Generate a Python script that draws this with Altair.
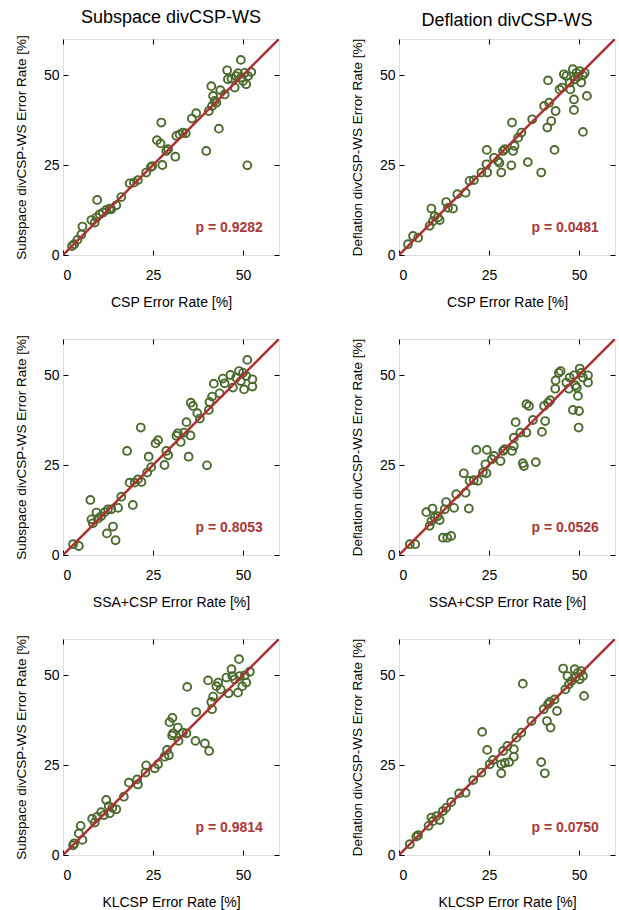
import altair as alt
import pandas as pd

GREEN = "#4b6a2e"
RED = "#aa3333"
TXTRED = "#a93838"
FONT = "Liberation Sans"
W = 216

col_titles = ["Subspace divCSP-WS", "Deflation divCSP-WS"]
y_titles = ["Subspace divCSP-WS Error Rate [%]", "Deflation divCSP-WS Error Rate [%]"]
x_titles = ["CSP Error Rate [%]", "SSA+CSP Error Rate [%]", "KLCSP Error Rate [%]"]
p_values = [["0.9282", "0.0481"], ["0.8053", "0.0526"], ["0.9814", "0.0750"]]
tick_values = [0, 25, 50]
axis_range = [0, 60]

# Row 1, Subspace vs CSP
sub_csp_x = [2.5, 3.1, 4.0, 5.1, 5.4, 7.9, 8.8, 9.3, 9.5, 10.2, 11.1, 12.0, 13.0, 13.4, 14.8, 16.2,
             18.5, 19.7, 20.8, 23.1, 24.4, 24.8, 26.1, 27.1, 27.3, 27.6, 28.7, 29.2, 31.2, 31.5, 32.4,
             33.3, 34.1, 35.8, 37.0, 39.8, 40.5, 41.2, 41.4, 41.7, 42.1, 42.6, 43.3, 43.7, 44.9, 45.6,
             45.8, 46.8, 47.7, 48.1, 48.6, 49.4, 49.5, 50.0, 50.5, 50.9, 51.2, 52.3, 51.4]
sub_csp_y = [2.5, 3.0, 4.2, 5.7, 7.9, 9.7, 9.0, 10.4, 15.3, 11.3, 11.8, 12.5, 12.9, 12.7, 13.8, 16.1,
             19.9, 20.1, 20.8, 22.9, 24.4, 24.7, 31.9, 31.0, 36.8, 25.0, 28.9, 29.4, 27.3, 33.1, 33.5,
             34.0, 33.8, 37.9, 39.4, 28.9, 40.0, 46.9, 41.4, 44.2, 42.8, 42.3, 35.1, 45.8, 44.6, 51.3,
             48.8, 49.0, 46.5, 49.7, 50.5, 54.2, 49.3, 48.3, 50.6, 47.4, 24.9, 50.8, 49.7]

# Row 1, Deflation vs CSP
def_csp_x = [2.5, 3.9, 5.3, 9.0, 8.5, 9.4, 9.9, 10.8, 11.3, 13.1, 13.6, 15.0, 16.2, 18.5, 19.6, 20.8,
             22.9, 24.3, 24.5, 24.4, 26.4, 27.5, 27.9, 28.4, 28.9, 29.4, 31.4, 31.2, 31.7, 32.1, 33.1,
             34.0, 35.8, 37.0, 39.5, 40.3, 41.2, 41.4, 41.7, 42.3, 43.2, 43.5, 44.6, 45.3, 45.8, 46.5,
             47.4, 47.6, 48.3, 48.6, 48.6, 48.8, 49.3, 49.7, 50.2, 50.6, 51.1, 51.1, 51.6, 52.2]
def_csp_y = [3.0, 5.3, 4.8, 12.9, 8.1, 9.4, 10.8, 10.4, 9.7, 14.7, 13.1, 12.9, 16.9, 17.3, 20.6, 20.8,
             22.9, 25.2, 22.9, 29.2, 27.0, 26.1, 25.6, 22.9, 28.9, 29.4, 36.8, 24.9, 28.9, 30.3, 32.6,
             34.0, 25.8, 37.7, 22.9, 41.4, 35.4, 48.5, 42.3, 37.2, 29.2, 40.0, 46.0, 46.5, 50.2, 49.7,
             47.9, 46.0, 51.6, 43.2, 40.3, 48.8, 50.6, 49.5, 51.1, 47.9, 49.9, 34.2, 50.6, 44.2]

# Row 2, Subspace vs SSA+CSP
sub_ssa_x = [2.8, 4.4, 7.6, 7.9, 8.3, 9.3, 9.7, 10.6, 11.6, 12.2, 12.5, 13.4, 13.9, 14.6, 15.3, 16.2,
             17.8, 19.4, 18.5, 19.9, 20.8, 21.6, 21.8, 23.4, 23.8, 24.5, 25.7, 26.4, 28.2, 28.7, 29.2,
             31.5, 31.9, 32.7, 33.6, 34.3, 34.9, 35.4, 35.5, 36.1, 37.3, 38.0, 40.0, 40.5, 40.7, 41.4,
             41.9, 43.5, 44.4, 44.9, 46.5, 47.2, 48.1, 48.9, 49.4, 50.0, 50.3, 50.9, 51.2, 52.6, 52.6]
sub_ssa_y = [3.0, 2.5, 15.3, 9.9, 8.8, 11.8, 10.1, 10.8, 11.9, 6.0, 12.7, 12.7, 7.9, 4.1, 13.1, 16.2,
             28.9, 13.9, 20.1, 20.1, 21.0, 35.4, 20.3, 22.9, 27.3, 24.4, 31.0, 31.9, 25.0, 28.9, 27.7,
             33.1, 33.8, 31.4, 34.0, 36.9, 27.3, 33.2, 42.3, 41.4, 39.4, 37.9, 24.9, 40.3, 42.5, 44.0,
             47.6, 44.9, 49.0, 47.7, 50.0, 46.5, 49.3, 51.1, 48.3, 50.6, 46.0, 49.7, 54.2, 48.8, 46.8]

# Row 2, Deflation vs SSA+CSP
def_ssa_x = [3.0, 4.5, 7.6, 8.5, 9.0, 9.3, 9.9, 10.8, 11.3, 12.2, 13.4, 14.5, 13.1, 12.7, 15.3, 15.9,
             18.5, 19.4, 18.0, 19.6, 20.8, 21.5, 21.9, 23.3, 24.3, 24.0, 24.4, 25.8, 26.4, 28.2, 28.9,
             29.4, 31.4, 31.9, 31.9, 32.4, 33.7, 34.4, 34.7, 35.4, 35.4, 36.1, 37.2, 38.0, 39.7, 40.3,
             40.6, 41.4, 42.0, 43.4, 43.5, 44.4, 44.9, 46.5, 47.2, 47.4, 48.3, 48.6, 49.0, 49.4, 49.7,
             50.0, 49.9, 50.2, 50.6, 51.1, 52.5, 52.5]
def_ssa_y = [3.0, 3.0, 11.9, 8.1, 9.4, 12.9, 10.4, 10.8, 9.7, 4.8, 4.8, 5.3, 14.7, 12.7, 13.1, 16.9,
             17.3, 12.9, 22.7, 20.6, 20.8, 29.2, 20.6, 22.9, 22.7, 25.2, 29.2, 26.6, 27.5, 26.1, 28.9,
             29.4, 28.9, 30.3, 32.6, 36.9, 34.0, 25.5, 24.7, 34.0, 41.9, 41.4, 37.5, 25.8, 34.2, 41.4,
             37.2, 42.3, 43.0, 46.2, 48.5, 50.6, 51.1, 47.9, 46.2, 49.3, 40.3, 49.9, 47.1, 46.5, 44.2,
             40.0, 35.4, 51.8, 50.6, 49.3, 49.9, 47.9]

# Row 3, Subspace vs KLCSP
sub_kl_x = [2.8, 3.1, 4.4, 4.9, 5.4, 8.1, 8.8, 9.5, 10.6, 11.4, 12.0, 12.7, 13.0, 13.7, 14.8, 16.9,
            18.3, 20.6, 20.8, 22.9, 23.1, 25.5, 26.4, 28.2, 28.9, 29.4, 29.6, 30.4, 30.3, 30.6, 31.9,
            32.1, 33.3, 34.3, 34.5, 36.8, 37.0, 39.4, 40.3, 40.6, 41.2, 41.4, 41.7, 42.6, 43.1, 43.8,
            45.4, 46.0, 46.8, 47.0, 47.7, 48.6, 48.9, 49.1, 49.8, 50.5, 50.9, 51.9]
sub_kl_y = [2.7, 3.2, 6.0, 8.1, 4.2, 10.1, 9.0, 10.6, 11.9, 11.1, 15.3, 13.6, 11.6, 13.1, 12.7, 16.2,
            20.1, 21.0, 19.6, 22.9, 24.9, 24.1, 25.2, 27.3, 29.2, 27.7, 36.9, 38.1, 33.2, 33.8, 35.4,
            31.7, 34.0, 33.8, 46.7, 31.7, 39.7, 31.0, 48.5, 28.9, 42.5, 40.5, 44.0, 46.9, 47.9, 46.0,
            49.3, 44.9, 51.6, 49.7, 48.8, 45.1, 54.4, 49.7, 46.9, 49.9, 47.9, 50.9]

# Row 3, Deflation vs KLCSP
def_kl_x = [3.0, 4.8, 5.3, 8.2, 9.0, 9.4, 10.4, 11.3, 12.2, 13.1, 14.5, 16.7, 18.5, 20.6, 22.9, 23.1,
            24.5, 25.2, 26.1, 28.4, 28.4, 28.9, 29.4, 30.1, 30.6, 31.9, 31.9, 32.6, 34.0, 34.4, 36.8,
            39.5, 40.5, 40.2, 41.1, 41.4, 42.1, 41.9, 43.2, 43.9, 45.6, 46.2, 46.8, 47.2, 47.9, 48.8,
            49.0, 49.7, 50.2, 50.6, 51.4, 51.1]
def_kl_y = [3.0, 5.1, 5.5, 8.1, 10.4, 9.4, 10.8, 9.7, 12.2, 13.1, 14.7, 17.1, 17.3, 20.8, 22.9, 34.2,
            29.2, 25.2, 26.4, 25.2, 22.7, 28.9, 25.6, 30.3, 25.8, 29.4, 27.3, 32.6, 34.0, 47.6, 37.2,
            25.8, 22.7, 40.5, 37.2, 41.9, 35.4, 42.5, 43.2, 40.0, 51.8, 46.0, 49.7, 47.4, 48.3, 51.6,
            49.3, 50.6, 48.8, 51.1, 44.2, 49.7]

series = [
    [(sub_csp_x, sub_csp_y), (def_csp_x, def_csp_y)],
    [(sub_ssa_x, sub_ssa_y), (def_ssa_x, def_ssa_y)],
    [(sub_kl_x, sub_kl_y), (def_kl_x, def_kl_y)],
]

diag_df = pd.DataFrame({"x": axis_range, "y": axis_range})


def scale():
    return alt.Scale(domain=axis_range, nice=False, zero=False)


def inner_axis(orient):
    return alt.Axis(orient=orient, offset=-W, values=tick_values, labels=False, domain=False,
                    ticks=True, tickSize=5, tickColor="black", tickWidth=1, grid=False, title=None)


def panel(r, c):
    xs, ys = series[r][c]
    df = pd.DataFrame({"x": xs, "y": ys})
    xax = alt.Axis(orient="bottom", values=tick_values, ticks=False, tickSize=0, domain=False,
                   grid=False, title=x_titles[r], labelPadding=13, titlePadding=13,
                   labelFontSize=14, titleFontSize=14, labelFont=FONT, titleFont=FONT,
                   labelColor="black", titleColor="black", titleFontWeight="normal")
    yax = alt.Axis(orient="left", values=tick_values, ticks=False, tickSize=0, domain=False,
                   grid=False, title=y_titles[c], labelPadding=4, titlePadding=15,
                   labelFontSize=14, titleFontSize=13.5, labelFont=FONT, titleFont=FONT,
                   labelColor="black", titleColor="black", titleFontWeight="normal")
    pts = alt.Chart(df).mark_point(shape="circle", filled=False, size=62, strokeWidth=1.9,
                                   color=GREEN, opacity=1).encode(
        x=alt.X("x:Q", scale=scale(), axis=xax),
        y=alt.Y("y:Q", scale=scale(), axis=yax),
    )
    diag = alt.Chart(diag_df).mark_line(color=RED, strokeWidth=2.6, clip=True).encode(
        x=alt.X("x:Q", scale=scale(), axis=inner_axis("top")),
        y=alt.Y("y:Q", scale=scale(), axis=inner_axis("right")),
    )
    pdf = pd.DataFrame({"x": [55.5], "y": [7.5], "t": ["p = " + p_values[r][c]]})
    ptxt = alt.Chart(pdf).mark_text(align="right", baseline="middle", fontSize=14,
                                    fontWeight="bold", font=FONT, color=TXTRED).encode(
        x=alt.X("x:Q", scale=scale(), axis=inner_axis("bottom")),
        y=alt.Y("y:Q", scale=scale(), axis=inner_axis("left")),
        text="t:N",
    )
    layer = alt.layer(pts, diag, ptxt).properties(width=W, height=W)
    if r == 0:
        layer = layer.properties(title=alt.Title(col_titles[c], fontSize=18, font=FONT,
                                                 fontWeight="normal", color="black", offset=8))
    return layer


panels = [panel(r, c) for r in range(3) for c in range(2)]

chart = alt.concat(*panels, columns=2, spacing={"row": 84, "column": 120}, bounds="flush").properties(
    padding={"left": 13, "top": 8, "right": 2, "bottom": 2}
).configure_view(stroke="black", strokeWidth=1).configure(font=FONT, background="white")

chart.save("out.html", embed_options={"renderer": "svg", "actions": False})
